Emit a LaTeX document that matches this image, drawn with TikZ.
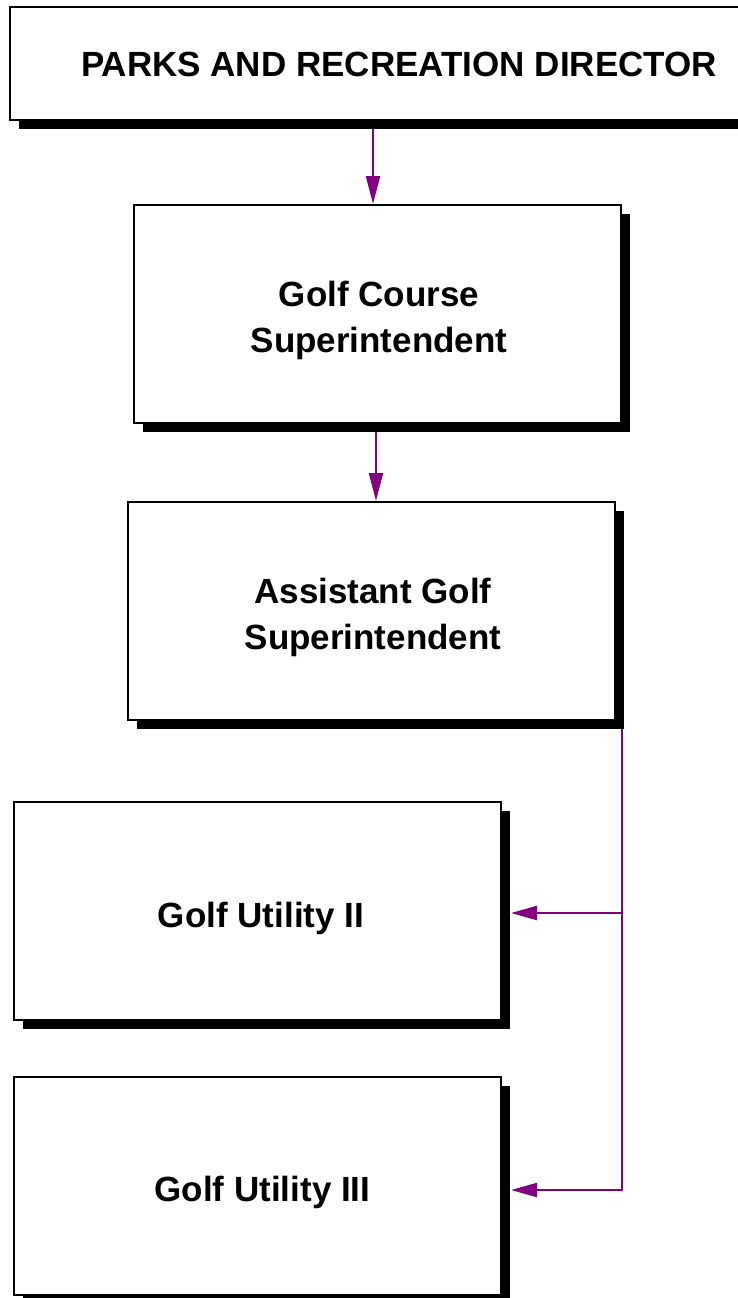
\documentclass[tikz,border=0pt]{standalone}
\usepackage{fontspec}
\setmainfont{Liberation Sans}
\usetikzlibrary{arrows.meta,shadows,backgrounds,calc}
\definecolor{connc}{RGB}{128,0,128}
\begin{document}
\begin{tikzpicture}[x=1pt,y=-1pt,
  box/.style={draw=black, line width=2pt, fill=white, rectangle, inner sep=0pt,
    drop shadow={shadow xshift=9pt, shadow yshift=-9pt, opacity=1, fill=black}},
  orgbox/.style={box, minimum width=487pt, minimum height=218pt},
  lbl/.style={inner sep=0pt, align=center, font=\fontsize{35}{46}\selectfont\bfseries},
  conn/.style={draw=connc, line width=2.3pt},
  vtip/.style={-{Triangle[length=28pt,width=14pt]}},
  htip/.style={-{Triangle[length=26pt,width=14pt]}}]
\useasboundingbox (0,0) rectangle (738,1298);
\clip (0,0) rectangle (738,1298);
\node[box, minimum width=778pt, minimum height=113pt] (dir) at (399,63.5) {};
\node[orgbox] (gcs) at (377.5,314) {};
\node[orgbox] (asg) at (371.5,611) {};
\node[orgbox] (gu2) at (257.5,911) {};
\node[orgbox] (gu3) at (257.5,1186) {};
\node[lbl] (dirT) at ($(dir)+(0,1)$) {PARKS AND RECREATION DIRECTOR};
\node[lbl] (gcsT) at ($(gcs)+(1.5,6)$) {Golf Course\\Superintendent};
\node[lbl] (asgT) at ($(asg)+(1.5,6)$) {Assistant Golf\\Superintendent};
\node[lbl] (gu2T) at ($(gu2)+(3.5,7)$) {Golf Utility II};
\node[lbl] (gu3T) at ($(gu3)+(5,6)$) {Golf Utility III};
\begin{scope}[on background layer]
  \coordinate (a1e) at ($(gcs.north)+(-4.5,0)$);
  \draw[conn, vtip] (a1e |- dir.south) -- (a1e);
  \coordinate (a2e) at ($(asg.north)+(4.5,0)$);
  \draw[conn, vtip] (a2e |- gcs.south) -- (a2e);
  \coordinate (bt) at ($(asg.south east)+(6,0)$);
  \coordinate (e2) at ($(gu2.east)+(9,2)$);
  \coordinate (e3) at ($(gu3.east)+(9,4)$);
  \draw[conn, htip] (bt) |- (e3);
  \draw[conn, htip] (bt |- e2) -- (e2);
\end{scope}
\end{tikzpicture}
\end{document}
